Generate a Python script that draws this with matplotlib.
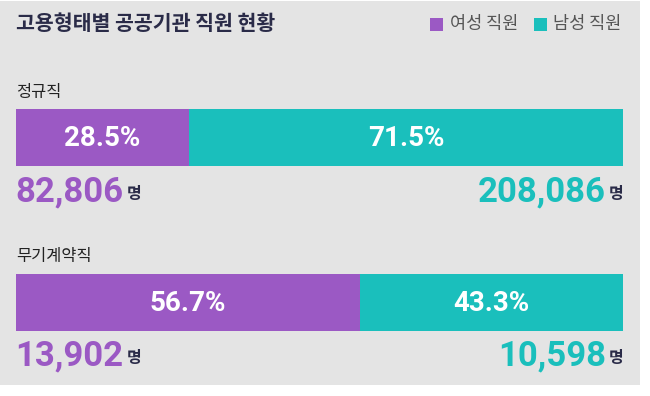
import matplotlib
matplotlib.use("Agg")
import matplotlib.pyplot as plt
from matplotlib.patches import Rectangle

# data
categories = ["정규직", "무기계약직"]
female_pct = [28.5, 56.7]
male_pct = [71.5, 43.3]
female_cnt = ["82,806", "13,902"]
male_cnt = ["208,086", "10,598"]
legend_labels = ["여성 직원", "남성 직원"]
title = "고용형태별 공공기관 직원 현황"

PURPLE = "#9b59c4"
TEAL = "#1abfbc"
BG = "#e4e4e4"
NAVY = "#2a2b48"
KR = ["Noto Sans CJK KR", "DejaVu Sans"]
NUM = ["Roboto", "DejaVu Sans"]

W, H = 650, 396
fig = plt.figure(figsize=(W / 100, H / 100), dpi=100)
fig.patch.set_facecolor("white")

# overlay axes in pixel coords
ax = fig.add_axes([0, 0, 1, 1])
ax.set_xlim(0, W)
ax.set_ylim(H, 0)
ax.axis("off")
ax.add_patch(Rectangle((0, 1), 640, 384, facecolor=BG, edgecolor="none", zorder=0))

# bar axes: x in percent, y in pixels
x0, x1 = 16, 623
bax = fig.add_axes([x0 / W, 0, (x1 - x0) / W, 1])
bax.set_xlim(0, 100)
bax.set_ylim(H, 0)
bax.axis("off")
bax.patch.set_alpha(0)

bar_y = [137.5, 302.5]
bar_h = 57
bax.barh(bar_y, female_pct, height=bar_h, color=PURPLE, zorder=2)
bax.barh(bar_y, male_pct, left=female_pct, height=bar_h, color=TEAL, zorder=2)

for i, y in enumerate(bar_y):
    bax.text(female_pct[i] / 2, y + 1, f"{female_pct[i]}%", color="white",
             ha="center", va="center", fontsize=20, fontweight="bold",
             family=NUM, zorder=3)
    bax.text(female_pct[i] + male_pct[i] / 2, y + 1, f"{male_pct[i]}%",
             color="white", ha="center", va="center", fontsize=20,
             fontweight="bold", family=NUM, zorder=3)

# category labels
cat_y = [92, 257]
for c, y in zip(categories, cat_y):
    ax.text(16, y, c, ha="left", va="center", fontsize=11.8, color="#222222",
            family=KR)

# counts
cnt_y = [192, 356]
for i, y in enumerate(cnt_y):
    t = ax.text(15, y, female_cnt[i], ha="left", va="center", fontsize=25,
                fontweight="bold", color=PURPLE, family=NUM)
    fig.canvas.draw()
    bb = t.get_window_extent()
    ax.text(bb.x1 + 4, y + 2, "명", ha="left", va="center", fontsize=11.5,
            fontweight="bold", color=NAVY, family=KR)
    ax.text(624, y + 2, "명", ha="right", va="center", fontsize=11.5,
            fontweight="bold", color=NAVY, family=KR)
    ax.text(606, y, male_cnt[i], ha="right", va="center", fontsize=25,
            fontweight="bold", color=TEAL, family=NUM)

# title
ax.text(16, 24, title, ha="left", va="center", fontsize=14.8,
        fontweight="bold", color=NAVY, family=KR)

# legend
ax.add_patch(Rectangle((430, 18), 13, 13, facecolor=PURPLE, edgecolor="none"))
ax.text(450, 24.5, legend_labels[0], ha="left", va="center", fontsize=12.6,
        color="#555555", family=KR)
ax.add_patch(Rectangle((534, 18), 13, 13, facecolor=TEAL, edgecolor="none"))
ax.text(553, 24.5, legend_labels[1], ha="left", va="center", fontsize=12.6,
        color="#555555", family=KR)

fig.savefig("out.png", dpi=100, facecolor="white")
